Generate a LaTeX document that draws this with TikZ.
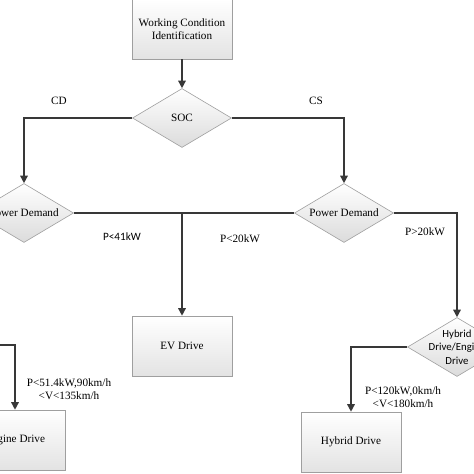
\documentclass[tikz,border=0pt]{standalone}
\usepackage{fontspec}
\setmainfont{Liberation Serif}
\newfontfamily\calfont{Carlito}
\usetikzlibrary{shapes.geometric,arrows.meta,shadows}
\begin{document}
\begin{tikzpicture}[x=1pt,y=-1pt,
  every node/.style={font=\fontsize{11.2}{12.5}\selectfont},
  boxnode/.style={draw=gray!75, line width=0.6pt, top color=white, bottom color=gray!22,
     minimum width=100pt, minimum height=60pt, inner sep=0pt, align=center,
     drop shadow={opacity=0.25, shadow xshift=1.2pt, shadow yshift=-1.2pt}},
  decnode/.style={diamond, draw=gray!75, line width=0.6pt, top color=white, bottom color=gray!28,
     minimum width=99pt, minimum height=59pt, inner sep=0pt, aspect=1.68},
  conn/.style={draw=black!78, line width=1.4pt},
  arr/.style={conn, -{Triangle[length=7.5pt,width=7.5pt]}},
  lbl/.style={align=center, inner sep=0pt}
]
\useasboundingbox (0,0) rectangle (474,474);
\fill[white] (0,0) rectangle (474,474);

% nodes
\node[boxnode] (wci) at (182,29) {Working Condition\\Identification};
\node[decnode] (soc) at (182,118) {};
\node[lbl] (soct) at (182,118) {SOC};
\node[decnode] (pdl) at (24,213) {};
\node[lbl] (pdlt) at (24,213) {Power Demand};
\node[decnode] (pdr) at (344,213) {};
\node[lbl] (pdrt) at (344,213) {Power Demand};
\node[boxnode] (ev) at (182,346) {EV Drive};
\node[decnode] (hed) at (457,347) {};
\node[lbl, font=\calfont\fontsize{10.8}{13.5}\selectfont] (hedt) at (457,347) {Hybrid\\Drive/Engine\\Drive};
\node[boxnode] (hyb) at (351,442) {Hybrid Drive};
\node[boxnode] (eng) at (15,440) {Engine Drive};
\coordinate (lin) at (-2,345);

% connectors
\draw[arr] (wci.south) -- (soc.north);
\draw[arr] (soc.west) -| (pdl.north);
\draw[arr] (soc.east) -| (pdr.north);
\draw[arr] (pdl.east) -| (ev.north);
\draw[conn] (pdr.west) -- (ev.north |- pdr.west);
\draw[arr] (pdr.east) -| (hed.north);
\draw[arr] (hed.west) -| (hyb.north);
\draw[arr] (lin) -| (eng.north);

% labels
\node[lbl] (cd) at (59,101) {CD};
\node[lbl] (cs) at (316,101) {CS};
\node[lbl, font=\calfont\fontsize{11.2}{12.5}\selectfont] (p41) at (122,237) {P<41kW};
\node[lbl] (p20a) at (240,239) {P<20kW};
\node[lbl] (p20b) at (425,232) {P>20kW};
\node[lbl] (p51) at (69,389) {P<51.4kW,90km/h\\<V<135km/h};
\node[lbl] (p120) at (403,397) {P<120kW,0km/h\\<V<180km/h};
\end{tikzpicture}
\end{document}
